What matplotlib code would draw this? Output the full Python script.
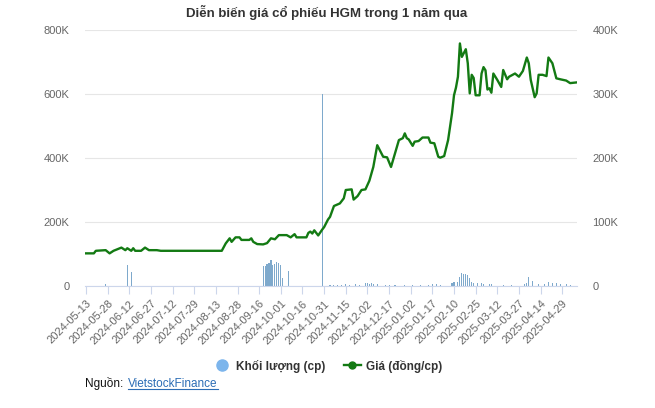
import matplotlib
matplotlib.use("Agg")
import matplotlib.pyplot as plt
from matplotlib.lines import Line2D
from matplotlib.ticker import FuncFormatter
import pandas as pd

plt.rcParams['font.family'] = ['Liberation Sans', 'DejaVu Sans']

# trading sessions (HOSE calendar, holidays removed)
holidays = ['2024-09-02', '2024-09-03', '2025-01-01', '2025-01-27', '2025-01-28',
            '2025-01-29', '2025-01-30', '2025-01-31', '2025-04-07', '2025-04-30',
            '2025-05-01']
sessions = pd.bdate_range('2024-05-13', '2025-05-12')
sessions = [d.strftime('%Y-%m-%d') for d in sessions if d.strftime('%Y-%m-%d') not in holidays]

# closing price (dong/cp) at its turning points
price_dates = [
    '2024-05-13', '2024-05-17', '2024-05-20', '2024-05-27', '2024-05-29', '2024-05-31',
    '2024-06-06', '2024-06-10', '2024-06-11', '2024-06-13', '2024-06-14', '2024-06-17',
    '2024-06-20', '2024-06-24', '2024-06-26', '2024-07-02', '2024-07-04', '2024-08-16',
    '2024-08-20', '2024-08-22', '2024-08-23', '2024-08-27', '2024-08-29', '2024-08-30',
    '2024-09-09', '2024-09-10', '2024-09-11', '2024-09-13', '2024-09-18', '2024-09-20',
    '2024-09-24', '2024-09-26', '2024-09-30', '2024-10-04', '2024-10-08', '2024-10-10',
    '2024-10-11', '2024-10-18', '2024-10-21', '2024-10-22', '2024-10-23', '2024-10-24',
    '2024-10-28', '2024-10-30', '2024-10-31', '2024-11-04', '2024-11-05', '2024-11-07',
    '2024-11-12', '2024-11-14', '2024-11-15', '2024-11-20', '2024-11-21', '2024-11-25',
    '2024-11-27', '2024-11-29', '2024-12-03', '2024-12-05', '2024-12-09', '2024-12-12',
    '2024-12-16', '2024-12-18', '2024-12-20', '2024-12-24', '2024-12-26', '2024-12-27',
    '2024-12-30', '2024-12-31', '2025-01-03', '2025-01-06', '2025-01-08', '2025-01-10',
    '2025-01-15', '2025-01-16', '2025-01-20', '2025-01-21', '2025-01-22', '2025-01-23',
    '2025-02-03', '2025-02-05', '2025-02-07', '2025-02-10', '2025-02-11', '2025-02-12',
    '2025-02-13', '2025-02-14', '2025-02-18', '2025-02-19', '2025-02-20', '2025-02-21',
    '2025-02-24', '2025-02-25', '2025-02-27', '2025-02-28', '2025-03-03', '2025-03-04',
    '2025-03-05', '2025-03-06', '2025-03-07', '2025-03-10', '2025-03-12', '2025-03-14',
    '2025-03-17', '2025-03-19', '2025-03-20', '2025-03-25', '2025-03-27', '2025-03-31',
    '2025-04-02', '2025-04-03', '2025-04-04', '2025-04-09', '2025-04-10', '2025-04-11',
    '2025-04-15', '2025-04-17', '2025-04-18', '2025-04-22', '2025-04-24', '2025-04-28',
    '2025-05-05', '2025-05-06', '2025-05-07', '2025-05-12']
price = [
    51000, 51000, 55000, 56000, 51000, 55000,
    60000, 56000, 59000, 55000, 59000, 55000,
    55000, 60000, 56000, 56000, 55000, 55000,
    66500, 74500, 69000, 76000, 76000, 72000,
    72000, 74500, 69000, 65500, 65000, 67000,
    74500, 73000, 79500, 79500, 76000, 81000,
    76000, 76000, 83000, 85000, 82000, 87000,
    79000, 88000, 92000, 104000, 108000, 125000,
    129000, 137000, 150000, 151000, 135000, 140500,
    150000, 151000, 164500, 186000, 220000, 202000,
    201000, 186000, 207000, 228000, 231000, 238500,
    231000, 229000, 219000, 225500, 226500, 232000,
    232000, 224000, 223000, 212500, 202000, 200500,
    203000, 228000, 270000, 298000, 310000, 327000,
    379000, 358000, 370000, 348000, 301000, 330000,
    325000, 298000, 298000, 332000, 342000, 337000,
    307000, 309000, 302000, 332000, 322000, 311000,
    337500, 323000, 327000, 332000, 327000, 336000,
    357000, 348000, 322000, 295000, 301000, 330000,
    330000, 328000, 357000, 348000, 324500, 323000,
    321000, 319000, 317000, 318000]

# traded volume (cp), sessions with a visible column
vol_dates = [
    '2024-05-27', '2024-06-11', '2024-06-13',
    '2024-09-18', '2024-09-19', '2024-09-20', '2024-09-23', '2024-09-24', '2024-09-25',
    '2024-09-26', '2024-09-27', '2024-09-30', '2024-10-01', '2024-10-02', '2024-10-07',
    '2024-10-30', '2024-11-05', '2024-11-07', '2024-11-11', '2024-11-13', '2024-11-15',
    '2024-11-19', '2024-11-22', '2024-11-26', '2024-11-29', '2024-12-02', '2024-12-03',
    '2024-12-04', '2024-12-05', '2024-12-09', '2024-12-13', '2024-12-17', '2024-12-20',
    '2024-12-27', '2025-01-03', '2025-01-09', '2025-01-15', '2025-01-17', '2025-01-21',
    '2025-01-23', '2025-02-07', '2025-02-10', '2025-02-12', '2025-02-13', '2025-02-14',
    '2025-02-17', '2025-02-18', '2025-02-19', '2025-02-20', '2025-02-21', '2025-02-24',
    '2025-02-26', '2025-02-28', '2025-03-03', '2025-03-06', '2025-03-07', '2025-03-17',
    '2025-03-21', '2025-04-01', '2025-04-02', '2025-04-03', '2025-04-08', '2025-04-11',
    '2025-04-16', '2025-04-18', '2025-04-22', '2025-04-24', '2025-04-28', '2025-05-05',
    '2025-05-07']
volume = [
    5000, 65000, 45000,
    62000, 62000, 68000, 73000, 80000, 66000,
    70000, 76000, 72000, 66000, 24000, 47000,
    600000, 4000, 4000, 4000, 4000, 5000,
    4000, 6000, 4000, 8000, 10000, 7000,
    9000, 6000, 5000, 3000, 4000, 3000,
    3000, 3000, 2000, 3000, 5000, 6000,
    4000, 10000, 13000, 12000, 28000, 40000,
    36000, 36000, 33000, 24000, 13000, 8000,
    8000, 10000, 5000, 5000, 5000, 4000,
    4000, 7000, 8000, 29000, 15000, 6000,
    7000, 12000, 10000, 10000, 7000, 5000,
    4000]

pos = {d: i for i, d in enumerate(sessions)}
tick_idx = list(range(0, len(sessions), 11))

fig = plt.figure(figsize=(6.55, 4.08), dpi=100)
ax = fig.add_axes([85 / 655, 1 - 286 / 408, 492 / 655, 256 / 408])
ax2 = ax.twinx()

ax.bar([pos[d] for d in vol_dates], volume, width=0.55, color='#7ea9cc', zorder=2)
ax2.plot([pos[d] for d in price_dates], price, color='#137a13', lw=1.7, zorder=3)

ax.set_xlim(-0.5, len(sessions) - 0.5)
ax.set_ylim(0, 800000)
ax2.set_ylim(0, 400000)
ax.set_yticks(range(0, 800001, 200000))
ax2.set_yticks(range(0, 400001, 100000))

kfmt = FuncFormatter(lambda v, p: '0' if v == 0 else '%dK' % (v / 1000))
ax.yaxis.set_major_formatter(kfmt)
ax2.yaxis.set_major_formatter(kfmt)

ax.grid(axis='y', color='#e6e6e6', lw=0.8, zorder=0)
ax.set_axisbelow(True)

for a in (ax, ax2):
    for s in a.spines.values():
        s.set_visible(False)
    a.tick_params(axis='y', length=0, labelsize=8, labelcolor='#666666', pad=11)
ax.spines['bottom'].set_visible(True)
ax.spines['bottom'].set_color('#ccd6eb')

ax.set_xticks(tick_idx)
ax.set_xticklabels([sessions[i] for i in tick_idx], rotation=45, ha='right',
                   rotation_mode='anchor', fontsize=8, color='#666666')
ax.tick_params(axis='x', length=6, color='#ccd6eb', pad=3)

fig.text(327 / 655, 1 - 13 / 408, 'Diễn biến giá cổ phiếu HGM trong 1 năm qua',
         ha='center', va='center', fontsize=9.5, fontweight='bold', color='#333333')

handles = [Line2D([], [], ls='none', marker='o', ms=8, color='#7cb5ec'),
           Line2D([], [], color='#137a13', lw=1.7, marker='o', ms=5)]
fig.legend(handles, ['Khối lượng (cp)', 'Giá (đồng/cp)'], loc='center',
           bbox_to_anchor=(328 / 655, 1 - 366 / 408), ncol=2, frameon=False,
           fontsize=8.5, handlelength=1.4, columnspacing=1.6, handletextpad=0.5,
           prop={'weight': 'bold', 'size': 8.5})
for t in fig.legends[0].get_texts():
    t.set_color('#333333')

fig.text(85 / 655, 1 - 384 / 408, 'Nguồn:', ha='left', va='center', fontsize=8.5, color='#111111')
link = fig.text(128 / 655, 1 - 384 / 408, 'VietstockFinance', ha='left', va='center',
                fontsize=8.5, color='#2c6db5')
fig.canvas.draw()
bb = link.get_window_extent().transformed(fig.transFigure.inverted())
fig.add_artist(Line2D([bb.x0, bb.x1], [bb.y0 + 0.002, bb.y0 + 0.002],
                      transform=fig.transFigure, color='#2c6db5', lw=0.8))

fig.savefig('out.png', dpi=100)
